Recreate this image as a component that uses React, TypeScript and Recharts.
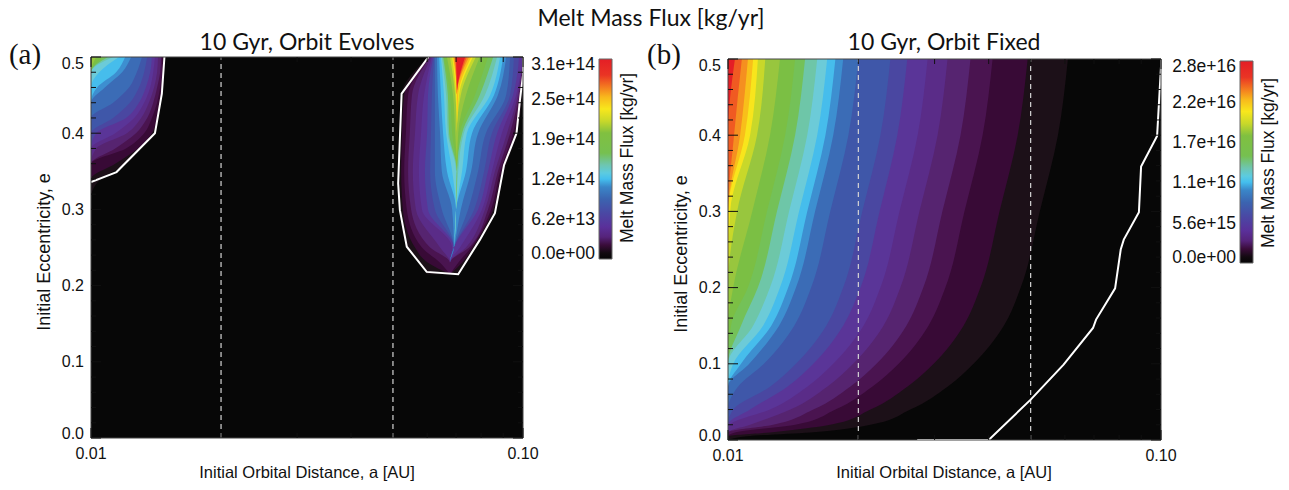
import { ComposedChart, Area, Line, XAxis, YAxis, CartesianGrid, BarChart, Bar } from 'recharts'

// ---- axes ----
const LOG_A_MIN = -2
const LOG_A_MAX = -1
const E_TICKS = [0, 0.02, 0.04, 0.06, 0.08, 0.1, 0.12, 0.14, 0.16, 0.18, 0.2, 0.22, 0.24, 0.26, 0.28, 0.3, 0.32, 0.34, 0.36, 0.38, 0.4, 0.42, 0.44, 0.46, 0.48, 0.5]
const A_TICKS_AU = [0.01, 0.02, 0.03, 0.04, 0.05, 0.06, 0.07, 0.08, 0.09, 0.1]
const A_LABELS = ['0.01', '0.10']
const DASHED_AU = [0.02, 0.05]

// ---- colorbars ----
const CB_A_TICKS = [0, 6.2e13, 1.24e14, 1.86e14, 2.48e14, 3.1e14]
const CB_B_TICKS = [0, 5.6e15, 1.12e16, 1.68e16, 2.24e16, 2.8e16]

// ---- panel (b): orbit fixed ----
// log10(a [AU]) of the right edge of filled level 1 (lowest) .. 22 (highest), one list per eccentricity row
const B_ROWS_E = [0, 0.005, 0.01, 0.02, 0.04, 0.07, 0.1, 0.15, 0.2, 0.3, 0.4, 0.5]
const B_EDGES = [
  [],
  [-1.956],
  [-1.81, -1.903, -1.984],
  [-1.671, -1.764, -1.845, -1.896, -1.949, -1.995],
  [-1.579, -1.671, -1.752, -1.803, -1.856, -1.903, -1.949, -1.988],
  [-1.493, -1.586, -1.667, -1.718, -1.771, -1.817, -1.863, -1.903, -1.977],
  [-1.433, -1.525, -1.606, -1.657, -1.711, -1.757, -1.803, -1.843, -1.917, -1.951, -1.97, -1.988],
  [-1.363, -1.456, -1.537, -1.588, -1.641, -1.687, -1.734, -1.773, -1.847, -1.882, -1.9, -1.919, -1.942, -1.97, -1.993],
  [-1.324, -1.417, -1.498, -1.549, -1.602, -1.648, -1.694, -1.734, -1.808, -1.843, -1.861, -1.88, -1.903, -1.931, -1.954, -1.988],
  [-1.28, -1.373, -1.454, -1.505, -1.558, -1.604, -1.65, -1.69, -1.764, -1.799, -1.817, -1.836, -1.859, -1.887, -1.91, -1.944, -1.979, -1.995],
  [-1.238, -1.331, -1.412, -1.463, -1.516, -1.562, -1.609, -1.648, -1.722, -1.757, -1.775, -1.794, -1.817, -1.845, -1.868, -1.903, -1.933, -1.949, -1.961, -1.972, -1.986],
  [-1.215, -1.308, -1.389, -1.44, -1.493, -1.539, -1.586, -1.625, -1.699, -1.734, -1.752, -1.771, -1.794, -1.822, -1.845, -1.88, -1.914, -1.931, -1.942, -1.954, -1.968, -1.984],
]
// zero-melt boundary (white curve)
const B_OUTLINE_E = [0, 0, 0.053, 0.099, 0.147, 0.158, 0.199, 0.25, 0.263, 0.299, 0.359, 0.399, 0.49, 0.5]
const B_OUTLINE_LOGA = [-1.563, -1.398, -1.301, -1.225, -1.157, -1.15, -1.106, -1.093, -1.086, -1.051, -1.046, -1.009, -1, -1]

// ---- panel (a): orbit evolves ----
// small-orbit corner: right edge of each level
const A_LEFT_ROWS_E = [0.32, 0.34, 0.36, 0.38, 0.4, 0.42, 0.44, 0.46, 0.48, 0.5]
const A_LEFT_EDGES = [
  [],
  [-1.977],
  [-1.919, -1.944],
  [-1.884, -1.891, -1.919, -1.944, -1.988],
  [-1.852, -1.859, -1.877, -1.896, -1.917, -1.944, -1.988],
  [-1.845, -1.847, -1.859, -1.87, -1.884, -1.9, -1.919, -1.949],
  [-1.838, -1.84, -1.847, -1.856, -1.866, -1.877, -1.889, -1.91, -1.949],
  [-1.833, -1.836, -1.84, -1.847, -1.854, -1.863, -1.873, -1.889, -1.912, -1.968, -1.986],
  [-1.831, -1.833, -1.836, -1.84, -1.847, -1.856, -1.863, -1.877, -1.894, -1.928, -1.942, -1.981],
  [-1.829, -1.833, -1.836, -1.838, -1.845, -1.852, -1.859, -1.87, -1.882, -1.907, -1.921, -1.935, -1.949, -1.961, -1.972, -1.988],
]
const A_LEFT_OUTLINE_E = [0.336, 0.349, 0.4, 0.452, 0.5]
const A_LEFT_OUTLINE_LOGA = [-2, -1.941, -1.852, -1.836, -1.83]

// V-shaped region: left and right edge of each level, and the apex where absent levels close
const A_RIGHT_ROWS_E = [0.215, 0.23, 0.25, 0.3, 0.35, 0.4, 0.45, 0.5]
const A_RIGHT_APEX = [-1.169, -1.169, -1.16, -1.155, -1.153, -1.153, -1.153, -1.153]
const A_RIGHT_LO = [
  [-1.222],
  [-1.238, -1.22, -1.192],
  [-1.269, -1.25, -1.234, -1.215, -1.192, -1.164],
  [-1.285, -1.278, -1.269, -1.259, -1.248, -1.234, -1.22, -1.204, -1.188, -1.164],
  [-1.289, -1.282, -1.275, -1.266, -1.255, -1.241, -1.227, -1.215, -1.204, -1.188, -1.176, -1.164, -1.155],
  [-1.287, -1.28, -1.271, -1.262, -1.25, -1.236, -1.222, -1.213, -1.204, -1.192, -1.185, -1.178, -1.174, -1.171, -1.164, -1.157],
  [-1.282, -1.275, -1.266, -1.257, -1.243, -1.229, -1.22, -1.211, -1.204, -1.197, -1.19, -1.183, -1.178, -1.174, -1.169, -1.162, -1.157, -1.155, -1.153],
  [-1.22, -1.218, -1.215, -1.215, -1.213, -1.211, -1.208, -1.206, -1.204, -1.199, -1.194, -1.19, -1.188, -1.185, -1.183, -1.176, -1.169, -1.164, -1.162, -1.16, -1.157, -1.155],
]
const A_RIGHT_HI = [
  [-1.15],
  [-1.134, -1.141, -1.15],
  [-1.111, -1.116, -1.12, -1.125, -1.132, -1.146],
  [-1.063, -1.069, -1.074, -1.081, -1.088, -1.095, -1.104, -1.113, -1.127, -1.144],
  [-1.044, -1.049, -1.053, -1.058, -1.065, -1.072, -1.081, -1.09, -1.104, -1.12, -1.132, -1.141, -1.15],
  [-1.014, -1.019, -1.023, -1.03, -1.037, -1.049, -1.06, -1.072, -1.086, -1.104, -1.118, -1.13, -1.137, -1.141, -1.146, -1.15],
  [-1.002, -1.005, -1.007, -1.009, -1.012, -1.016, -1.023, -1.03, -1.039, -1.058, -1.067, -1.076, -1.088, -1.1, -1.111, -1.132, -1.144, -1.148, -1.15],
  [-1, -1, -1, -1, -1, -1, -1.009, -1.021, -1.03, -1.039, -1.046, -1.053, -1.06, -1.069, -1.081, -1.1, -1.109, -1.116, -1.12, -1.125, -1.13, -1.134],
]
const A_RIGHT_OUTLINE_E = [0.5, 0.452, 0.334, 0.299, 0.251, 0.218, 0.215, 0.26, 0.295, 0.358, 0.4, 0.444, 0.476, 0.5]
const A_RIGHT_OUTLINE_LOGA = [-1.219, -1.281, -1.289, -1.285, -1.269, -1.223, -1.15, -1.1, -1.065, -1.044, -1.015, -1.007, -1, -1]

// ---- styling ----
const BAND_FILLS = [
  '#1c1018', '#380a36', '#4a1450', '#562470', '#5a2c88', '#5a3598', '#4a47a1', '#3f57a9',
  '#3b6cb6', '#3d8fd0', '#46bdec', '#6ccbd8', '#6ec6a8', '#74c158', '#7bbf44', '#98c63e',
  '#c8d82a', '#f8e51c', '#f8bf1a', '#f58f20', '#f05a22', '#e41e26',
]
const CMAP: [number, string][] = [
  [0, '#e41e26'], [0.08, '#ea3424'], [0.14, '#f47b20'], [0.19, '#f8b81c'], [0.25, '#f8e71c'],
  [0.31, '#c8d82a'], [0.37, '#80c040'], [0.47, '#76c050'], [0.53, '#6ec6b0'], [0.57, '#5ccbe0'],
  [0.6, '#44bfee'], [0.64, '#3a86c8'], [0.7, '#3b64b0'], [0.77, '#4a48a4'], [0.84, '#5a309a'],
  [0.89, '#55237a'], [0.93, '#3a0c3a'], [0.97, '#120a10'], [1, '#050505'],
]
const SANS = '"Liberation Sans", Arial, sans-serif'
const TITLE_FONT = 'Lato, "Open Sans", sans-serif'
const SERIF = '"Liberation Serif", "DejaVu Serif", serif'
const INK = '#111'
const PLOT_BG = '#070707'

const B_DATA = B_ROWS_E.map((e, i) => ({ e, edges: B_EDGES[i] }))
const A_LEFT_DATA = A_LEFT_ROWS_E.map((e, i) => ({ e, edges: A_LEFT_EDGES[i] }))
const A_RIGHT_DATA = A_RIGHT_ROWS_E.map((e, i) => ({ e, apex: A_RIGHT_APEX[i], lo: A_RIGHT_LO[i], hi: A_RIGHT_HI[i] }))
const toLine = (es: number[], xs: number[]) => es.map((e, i) => ({ e, x: xs[i] }))
const dashedData = (au: number) => [{ e: 0, x: Math.log10(au) }, { e: 0.5, x: Math.log10(au) }]
const X_TICKS = A_TICKS_AU.map((v) => Math.log10(v))

// fill from the left edge to level k
const edgeKey = (k: number) => (d: any) => (d && d.edges ? [LOG_A_MIN, d.edges[k] ?? LOG_A_MIN] : null)
// fill between the two walls of the V for level k
const wallKey = (k: number) => (d: any) => (d && d.lo ? [d.lo[k] ?? d.apex, d.hi[k] ?? d.apex] : null)

const isMajorE = (v: number) => Math.abs(v * 10 - Math.round(v * 10)) < 1e-6

const eTick = (side: 'left' | 'right') => (p: any) => {
  const v = p.payload.value
  const major = isMajorE(v)
  const len = major ? 10 : 5
  const dir = side === 'left' ? 1 : -1
  const dy = v >= 0.5 ? 6 : v <= 0 ? -5 : 0
  return (
    <g>
      <line x1={p.x} y1={p.y} x2={p.x + dir * len} y2={p.y} stroke={INK} strokeWidth={1} />
      {side === 'left' && major && (
        <text x={p.x - 7} y={p.y + dy} dy="0.35em" textAnchor="end" fontSize={16} fontFamily={SANS} fill={INK}>
          {v.toFixed(1)}
        </text>
      )}
    </g>
  )
}

const aTick = (side: 'top' | 'bottom') => (p: any) => {
  const v = p.payload.value
  const first = Math.abs(v - LOG_A_MIN) < 1e-6
  const last = Math.abs(v - LOG_A_MAX) < 1e-6
  const len = first || last ? 10 : 5
  const dir = side === 'bottom' ? -1 : 1
  return (
    <g>
      <line x1={p.x} y1={p.y} x2={p.x} y2={p.y + dir * len} stroke={INK} strokeWidth={1} />
      {side === 'bottom' && (first || last) && (
        <text x={p.x} y={p.y + 21} textAnchor="middle" fontSize={16} fontFamily={SANS} fill={INK}>
          {first ? A_LABELS[0] : A_LABELS[1]}
        </text>
      )}
    </g>
  )
}

const fmtSci = (v: number) => {
  if (v === 0) return '0.0e+00'
  let exp = Math.floor(Math.log10(v))
  let mant = Math.round((v / Math.pow(10, exp)) * 10) / 10
  if (mant >= 10) { mant /= 10; exp += 1 }
  return `${mant.toFixed(1)}e+${String(exp).padStart(2, '0')}`
}

// series use the bottom ("b") and left ("l") axes; top and right only carry the box ticks
const Axes = () => [
  <XAxis key="xb" xAxisId="b" type="number" domain={[LOG_A_MIN, LOG_A_MAX]} allowDataOverflow ticks={X_TICKS} interval={0}
    height={1} tickSize={0} tickMargin={0} tick={aTick('bottom')} axisLine={{ stroke: '#444' }} tickLine={false} />,
  <XAxis key="xt" xAxisId="t" orientation="top" type="number" domain={[LOG_A_MIN, LOG_A_MAX]} allowDataOverflow ticks={X_TICKS} interval={0}
    height={1} tickSize={0} tickMargin={0} tick={aTick('top')} axisLine={{ stroke: '#444' }} tickLine={false} />,
  <YAxis key="yl" yAxisId="l" type="number" dataKey="e" domain={[0, 0.5]} allowDataOverflow reversed ticks={E_TICKS} interval={0}
    width={1} tickSize={0} tickMargin={0} tick={eTick('left')} axisLine={{ stroke: '#444' }} tickLine={false} />,
  <YAxis key="yr" yAxisId="r" orientation="right" type="number" dataKey="e" domain={[0, 0.5]} allowDataOverflow reversed ticks={E_TICKS} interval={0}
    width={1} tickSize={0} tickMargin={0} tick={eTick('right')} axisLine={{ stroke: '#444' }} tickLine={false} />,
]

const AX = { xAxisId: 'b', yAxisId: 'l' }
const FLAT = { dot: false, activeDot: false, isAnimationActive: false } as const

function PanelA() {
  return (
    <ComposedChart layout="vertical" width={600} height={490} margin={{ top: 56, left: 90, right: 76, bottom: 51 }}>
      <CartesianGrid {...AX} fill={PLOT_BG} fillOpacity={1} stroke="none" horizontal={false} vertical={false} />
      {BAND_FILLS.map((c, k) => (
        <Area key={`l${k}`} {...AX} {...FLAT} data={A_LEFT_DATA} dataKey={edgeKey(k)} type="monotone" fill={c} fillOpacity={1} stroke="none" />
      ))}
      {BAND_FILLS.map((c, k) => (
        <Area key={`r${k}`} {...AX} {...FLAT} data={A_RIGHT_DATA} dataKey={wallKey(k)} type="monotone" fill={c} fillOpacity={1} stroke="none" />
      ))}
      <Line {...AX} {...FLAT} data={toLine(A_LEFT_OUTLINE_E, A_LEFT_OUTLINE_LOGA)} dataKey="x" type="linear" stroke="#fff" strokeWidth={2} />
      <Line {...AX} {...FLAT} data={toLine(A_RIGHT_OUTLINE_E, A_RIGHT_OUTLINE_LOGA)} dataKey="x" type="linear" stroke="#fff" strokeWidth={2} />
      {DASHED_AU.map((au) => (
        <Line key={au} {...AX} {...FLAT} data={dashedData(au)} dataKey="x" stroke="#d4d4d4" strokeWidth={1.2} strokeDasharray="5 4" />
      ))}
      {Axes()}
    </ComposedChart>
  )
}

function PanelB() {
  return (
    <ComposedChart layout="vertical" width={600} height={490} data={B_DATA} margin={{ top: 58, left: 87, right: 78, bottom: 49 }}>
      <CartesianGrid {...AX} fill={PLOT_BG} fillOpacity={1} stroke="none" horizontal={false} vertical={false} />
      {BAND_FILLS.map((c, k) => (
        <Area key={`b${k}`} {...AX} {...FLAT} dataKey={edgeKey(k)} type="monotone" fill={c} fillOpacity={1} stroke="none" />
      ))}
      {DASHED_AU.map((au) => (
        <Line key={au} {...AX} {...FLAT} data={dashedData(au)} dataKey="x" stroke="#d4d4d4" strokeWidth={1.2} strokeDasharray="5 4" />
      ))}
      <Line {...AX} {...FLAT} data={toLine(B_OUTLINE_E, B_OUTLINE_LOGA)} dataKey="x" type="linear" stroke="#fff" strokeWidth={2} />
      {Axes()}
    </ComposedChart>
  )
}

function ColorBar({ id, ticks, top, bottom, left, width }: { id: string; ticks: number[]; top: number; bottom: number; left: number; width: number }) {
  const max = ticks[ticks.length - 1]
  const data = [{ name: 'cb', range: [0, max] }]
  const tick = (p: any) => {
    const v = p.payload.value
    const dy = v >= max ? 5 : v <= 0 ? -6 : 0
    return (
      <text x={p.x - 4} y={p.y + dy} dy="0.35em" textAnchor="end" fontSize={17.5} fontFamily={SANS} fill={INK}>
        {fmtSci(v)}
      </text>
    )
  }
  return (
    <BarChart width={width} height={490} data={data} barCategoryGap={0} margin={{ top, bottom: 490 - bottom, left: left - 1, right: width - left - 13 }}>
      <defs>
        <linearGradient id={id} x1="0" y1="0" x2="0" y2="1">
          {CMAP.map(([o, c]) => <stop key={o} offset={o} stopColor={c} />)}
        </linearGradient>
      </defs>
      <XAxis dataKey="name" hide />
      <YAxis type="number" domain={[0, max]} ticks={ticks} interval={0} width={1} tickSize={0} tickMargin={0} axisLine={false} tickLine={false} tick={tick} />
      <Bar dataKey="range" fill={`url(#${id})`} stroke="#666" strokeWidth={1} isAnimationActive={false} />
    </BarChart>
  )
}

function Titles() {
  const t = { fontFamily: TITLE_FONT, fill: INK }
  const s = { fontFamily: SANS, fill: INK }
  return (
    <svg width={1289} height={490} style={{ position: 'absolute', left: 0, top: 0, pointerEvents: 'none' }}>
      <text x={651} y={26} textAnchor="middle" fontSize={23} {...t}>Melt Mass Flux [kg/yr]</text>
      <text x={307} y={50} textAnchor="middle" fontSize={23} {...t}>10 Gyr, Orbit Evolves</text>
      <text x={944} y={50} textAnchor="middle" fontSize={23} {...t}>10 Gyr, Orbit Fixed</text>
      <text x={25} y={64} textAnchor="middle" fontSize={29} fontFamily={SERIF} fill={INK}>(a)</text>
      <text x={664} y={64} textAnchor="middle" fontSize={29} fontFamily={SERIF} fill={INK}>(b)</text>
      <text x={307} y={478} textAnchor="middle" fontSize={16.5} {...s}>Initial Orbital Distance, a [AU]</text>
      <text x={944} y={478} textAnchor="middle" fontSize={16.5} {...s}>Initial Orbital Distance, a [AU]</text>
      <text transform="translate(50,252) rotate(-90)" textAnchor="middle" fontSize={18} {...s}>Initial Eccentricity, e</text>
      <text transform="translate(687,254) rotate(-90)" textAnchor="middle" fontSize={18} {...s}>Initial Eccentricity, e</text>
      <text transform="translate(633,158) rotate(-90)" textAnchor="middle" fontSize={17.5} {...s}>Melt Mass Flux [kg/yr]</text>
      <text transform="translate(1274,163) rotate(-90)" textAnchor="middle" fontSize={17.5} {...s}>Melt Mass Flux [kg/yr]</text>
    </svg>
  )
}

export default function App() {
  return (
    <div style={{ position: 'absolute', left: 0, top: 0, width: 1289, height: 490, background: '#fff', overflow: 'hidden' }}>
      <div style={{ position: 'absolute', left: 0, top: 0 }}><PanelA /></div>
      <div style={{ position: 'absolute', left: 640, top: 0 }}><PanelB /></div>
      <div style={{ position: 'absolute', left: 520, top: 0 }}>
        <ColorBar id="cmapA" ticks={CB_A_TICKS} top={59} bottom={259} left={79} width={120} />
      </div>
      <div style={{ position: 'absolute', left: 1160, top: 0 }}>
        <ColorBar id="cmapB" ticks={CB_B_TICKS} top={61} bottom={263} left={80} width={129} />
      </div>
      <Titles />
    </div>
  )
}
